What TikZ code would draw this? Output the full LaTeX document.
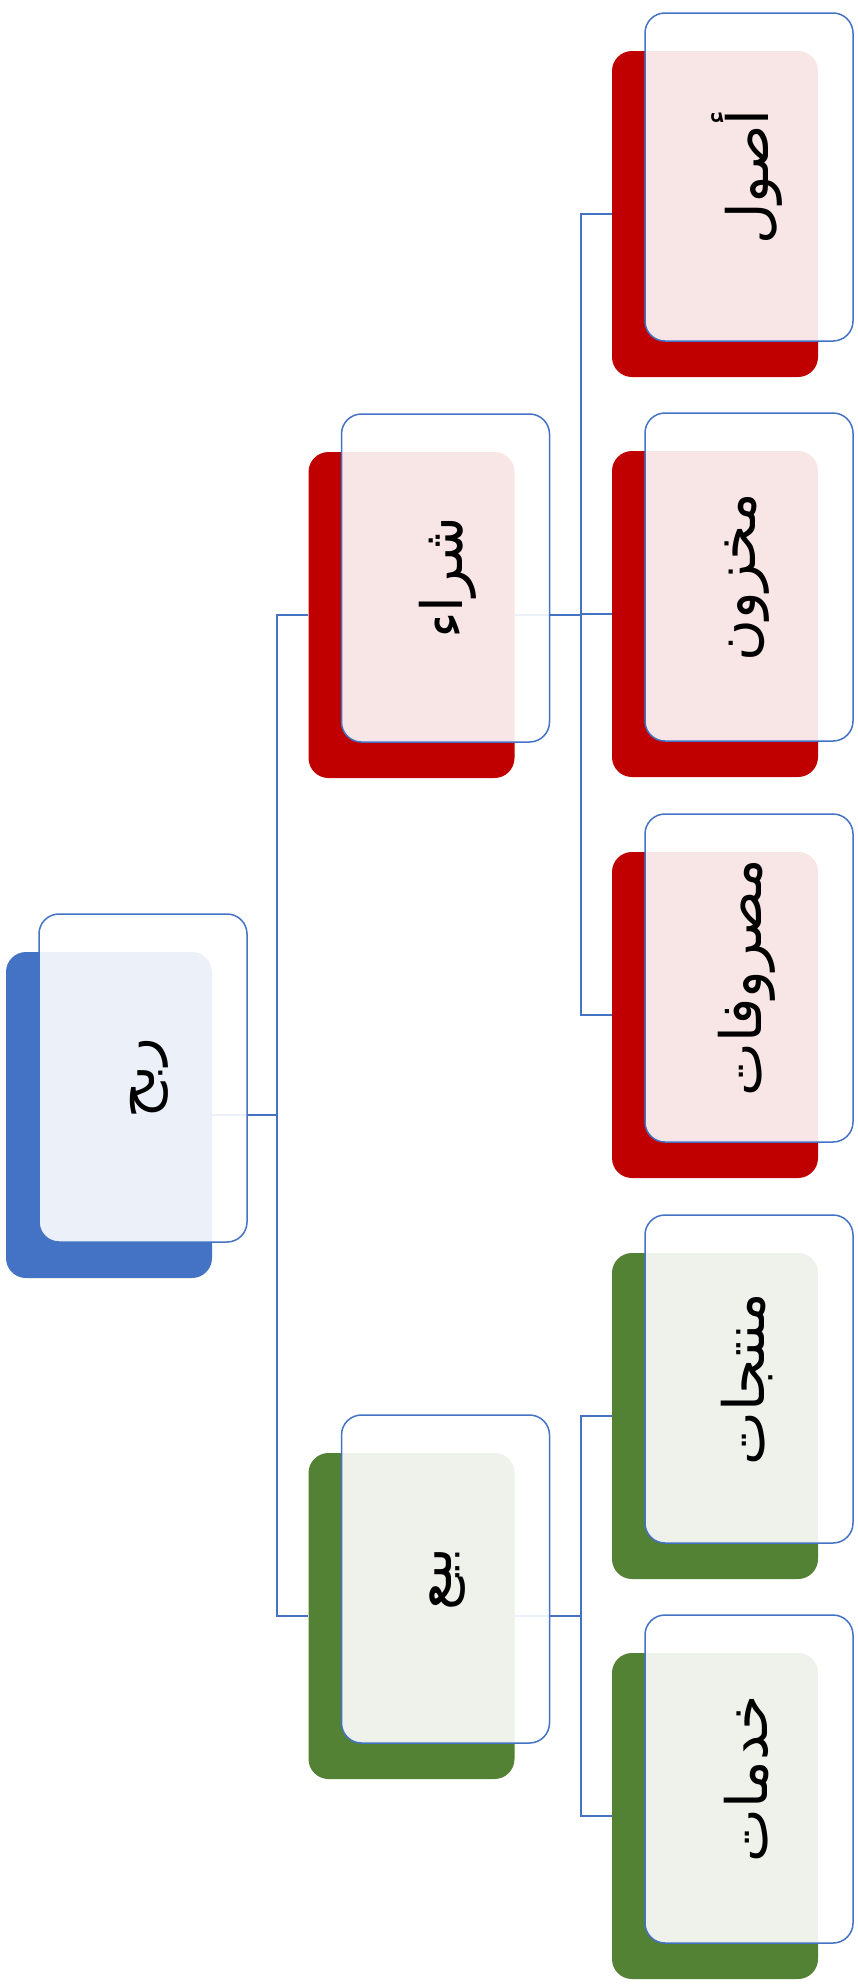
\documentclass[tikz,border=0pt]{standalone}
\usepackage{fontspec}
\newfontfamily\arabicfont[Script=Arabic]{DejaVu Sans}
\TeXXeTstate=1
\definecolor{cblue}{HTML}{4472C4}
\definecolor{cred}{HTML}{C00000}
\definecolor{cgreen}{HTML}{548235}
\begin{document}
\begin{tikzpicture}[x=1pt,y=-1pt,
  backbox/.style={rectangle, rounded corners=20pt, minimum width=206pt, minimum height=326pt, inner sep=0pt},
  frontbox/.style={rectangle, rounded corners=20pt, minimum width=208pt, minimum height=328pt, inner sep=0pt, draw=cblue, line width=1.5pt, fill=white, fill opacity=0.9},
  lbl/.style={rotate=90, font=\arabicfont\fontsize{57}{64}\selectfont, text=black, inner sep=0pt},
  conn/.style={draw=cblue, line width=1.8pt}]
\useasboundingbox[fill=white] (0,0) rectangle (857,1984);
% back boxes
\node[backbox, fill=cblue] (rootB) at (109,1115) {};
\node[backbox, fill=cred] (buyB) at (411.5,615) {};
\node[backbox, fill=cgreen] (sellB) at (411.5,1616) {};
\node[backbox, fill=cred] (assetB) at (715,214) {};
\node[backbox, fill=cred] (stockB) at (715,614) {};
\node[backbox, fill=cred] (expB) at (715,1015) {};
\node[backbox, fill=cgreen] (prodB) at (715,1416) {};
\node[backbox, fill=cgreen] (servB) at (715,1816) {};
% connectors
\draw[conn] (rootB.east) -- ++(65,0) |- (buyB.west);
\draw[conn] (rootB.east) -- ++(65,0) |- (sellB.west);
\draw[conn] (buyB.east) -- ++(66,0) |- (assetB.west);
\draw[conn] (buyB.east) -- ++(66,0) |- (stockB.west);
\draw[conn] (buyB.east) -- ++(66,0) |- (expB.west);
\draw[conn] (sellB.east) -- ++(66,0) |- (prodB.west);
\draw[conn] (sellB.east) -- ++(66,0) |- (servB.west);
% front boxes
\foreach \n in {root,buy,sell,asset,stock,exp,prod,serv}{
  \node[frontbox] (\n F) at ([shift={(34,-37)}]\n B.center) {};
}
% labels
\node[lbl] (rootT) at ([xshift=6pt]rootF.center) {\beginR ربح\endR};
\node[lbl] (buyT) at ([xshift=2pt]buyF.center) {\beginR شراء\endR};
\node[lbl] (sellT) at ([xshift=2pt]sellF.center) {\beginR بيع\endR};
\node[lbl] (assetT) at ([xshift=-2pt]assetF.center) {\beginR أصول\endR};
\node[lbl] (stockT) at ([xshift=-2pt]stockF.center) {\beginR مخزون\endR};
\node[lbl] (expT) at ([xshift=-2pt]expF.center) {\beginR مصروفات\endR};
\node[lbl] (prodT) at ([xshift=-2pt]prodF.center) {\beginR منتجات\endR};
\node[lbl] (servT) at ([xshift=-2pt]servF.center) {\beginR خدمات\endR};
\end{tikzpicture}
\end{document}
